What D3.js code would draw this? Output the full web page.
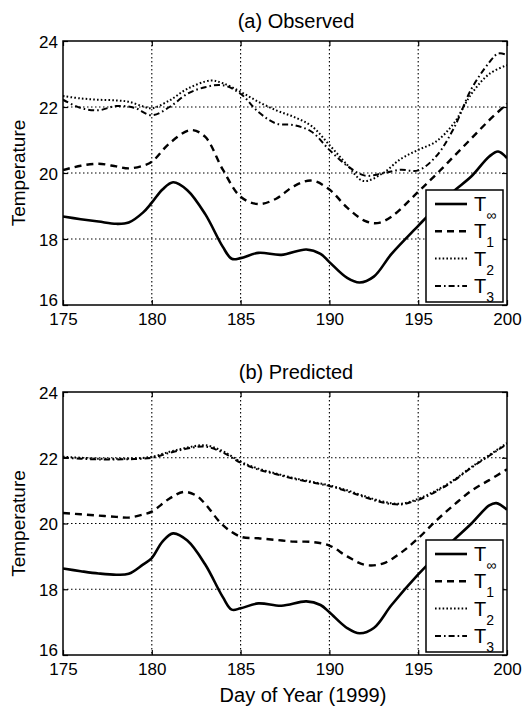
<!DOCTYPE html>
<html>
<head>
<meta charset="utf-8">
<script src="https://cdn.jsdelivr.net/npm/d3@7"></script>
<style>
  body { margin: 0; background: #fff; }
  text { font-family: "Liberation Sans", Arial, sans-serif; fill: #000; }
</style>
</head>
<body>
<svg id="fig" width="529" height="709"></svg>
<script>
/* Temperature curves, [day, temperature] pairs */
// (a) observed
let obsInf = [[175,18.68],[176,18.6],[177,18.53],[178,18.46],[178.7,18.5],[179.5,18.8],[180,19.1],[180.6,19.5],[181.2,19.72],[182,19.48],[183,18.76],[184,17.76],[184.5,17.4],[185,17.42],[186,17.58],[187.3,17.52],[188.7,17.68],[189.5,17.55],[190,17.3],[191,16.82],[191.7,16.68],[192.5,16.86],[193.5,17.55],[195,18.4],[196,18.95],[197,19.45],[198,19.9],[199,20.5],[199.5,20.65],[200,20.45]];
let obsT1 = [[175,20.09],[176,20.22],[177,20.28],[178,20.2],[178.7,20.14],[179.5,20.22],[180,20.34],[181,20.9],[182.2,21.3],[183,21.1],[184,20.1],[185,19.28],[186,19.06],[187,19.22],[188,19.6],[189,19.77],[190,19.5],[191,18.95],[192,18.55],[192.7,18.48],[193.5,18.68],[195,19.43],[196,19.95],[197,20.5],[198,21.05],[199,21.6],[200,22.1]];
let obsT2 = [[175,22.33],[176,22.26],[177,22.22],[178,22.2],[178.7,22.16],[179.5,22.02],[180,21.96],[181,22.2],[182,22.55],[183.3,22.8],[184,22.72],[185,22.46],[186,22.16],[187,21.9],[188,21.7],[189,21.42],[190,20.85],[191,20.25],[191.9,19.76],[193,19.99],[194,20.42],[195,20.7],[196,20.95],[197,21.5],[198,22.4],[199,23.0],[200,23.27]];
let obsT3 = [[175,22.22],[176,21.97],[177,21.9],[178,22.03],[179,21.98],[180,21.75],[181,22.0],[182,22.4],[183,22.6],[184,22.66],[185,22.4],[186,21.85],[187,21.5],[188,21.45],[189,21.25],[190,20.7],[191,20.22],[192,19.92],[193,19.99],[194,20.1],[195,20.08],[196,20.5],[197,21.35],[198,22.55],[199,23.35],[199.5,23.62],[200,23.58]];
// (b) predicted
let predInf = [[175,18.63],[176,18.55],[177,18.48],[178,18.44],[178.7,18.47],[179.5,18.75],[180,18.95],[180.6,19.45],[181.2,19.7],[182,19.48],[183,18.76],[184,17.76],[184.5,17.38],[185,17.42],[186,17.57],[187.3,17.5],[188.7,17.63],[189.5,17.52],[190,17.3],[191,16.82],[191.7,16.66],[192.5,16.82],[193.5,17.52],[195,18.45],[196,19.0],[197,19.5],[198,20.0],[199,20.55],[199.4,20.62],[200,20.42]];
let predT1 = [[175,20.32],[176,20.28],[177,20.24],[178,20.2],[178.7,20.18],[179.5,20.27],[180,20.36],[181,20.76],[181.8,20.96],[182.5,20.85],[183,20.6],[184,19.95],[185,19.6],[186,19.55],[187,19.5],[188,19.45],[189,19.44],[190,19.33],[191,19.0],[192,18.74],[193,18.78],[194,19.1],[195,19.55],[196,20.08],[197,20.56],[198,21.0],[199,21.32],[200,21.65]];
let predT2 = [[175,22.03],[176,22.0],[177,21.97],[178,21.97],[179,21.98],[180,22.03],[181,22.18],[182,22.31],[183,22.38],[184,22.2],[185,21.88],[186,21.67],[187,21.52],[188,21.38],[189,21.27],[190,21.16],[191,21.01],[192,20.83],[193,20.67],[194,20.6],[195,20.75],[196,21.0],[197,21.32],[198,21.72],[199,22.08],[200,22.45]];
let predT3 = [[175,22.0],[176,21.97],[177,21.95],[178,21.95],[179,21.96],[180,22.0],[181,22.15],[182,22.28],[183,22.34],[184,22.16],[185,21.85],[186,21.64],[187,21.5],[188,21.36],[189,21.25],[190,21.14],[191,20.98],[192,20.8],[193,20.64],[194,20.58],[195,20.72],[196,20.97],[197,21.3],[198,21.7],[199,22.06],[200,22.42]];

let xTicks = [175, 180, 185, 190, 195, 200];
let yTicks = [16, 18, 20, 22, 24];
let seriesNames = ["\u221E", "1", "2", "3"];
let dashes = [null, "7,5", "1.6,2.2", "6,3,1.6,3"];

let svg = d3.select("#fig");
let left = 63, right = 507;

let x = d3.scaleLinear().domain([175, 200]).range([left, right]);

function drawPanel(id, title, top, bottom, series) {
    let y = d3.scaleLinear().domain([16, 24]).range([bottom, top]);
    let g = svg.append("g").attr("id", id);

    g.append("clipPath").attr("id", "clip-" + id)
        .append("rect")
        .attr("x", left).attr("y", top)
        .attr("width", right - left).attr("height", bottom - top);

    // dotted grid
    g.selectAll(".vgrid").data(xTicks.slice(1, -1)).enter().append("line")
        .attr("x1", d => x(d)).attr("x2", d => x(d))
        .attr("y1", top).attr("y2", bottom)
        .attr("stroke", "#000").attr("stroke-width", 1.1)
        .attr("stroke-dasharray", "1.5,2.5");
    g.selectAll(".hgrid").data(yTicks.slice(1, -1)).enter().append("line")
        .attr("x1", left).attr("x2", right)
        .attr("y1", d => y(d)).attr("y2", d => y(d))
        .attr("stroke", "#000").attr("stroke-width", 1.1)
        .attr("stroke-dasharray", "1.5,2.5");

    let line = d3.line()
        .x(d => x(d[0]))
        .y(d => y(d[1]))
        .curve(d3.curveCatmullRom.alpha(0.5));

    g.append("g").attr("clip-path", "url(#clip-" + id + ")")
        .selectAll("path").data(series).enter().append("path")
        .attr("d", d => line(d))
        .attr("fill", "none")
        .attr("stroke", "#000")
        .attr("stroke-width", (d, i) => i === 0 ? 2.6 : (i === 1 ? 2.4 : 2))
        .attr("stroke-dasharray", (d, i) => dashes[i]);

    // axes with inward ticks on all sides
    let ax = d3.axisBottom(x).tickValues(xTicks).tickSizeInner(-5).tickSizeOuter(0).tickPadding(8);
    let ay = d3.axisLeft(y).tickValues(yTicks).tickSizeInner(-5).tickSizeOuter(0).tickPadding(5);
    let gx = g.append("g").attr("transform", "translate(0," + bottom + ")").call(ax);
    let gy = g.append("g").attr("transform", "translate(" + left + ",0)").call(ay);
    g.append("g").attr("transform", "translate(0," + top + ")")
        .call(d3.axisTop(x).tickValues(xTicks).tickSizeInner(-5).tickSizeOuter(0).tickFormat(""));
    g.append("g").attr("transform", "translate(" + right + ",0)")
        .call(d3.axisRight(y).tickValues(yTicks).tickSizeInner(-5).tickSizeOuter(0).tickFormat(""));
    g.selectAll(".domain").remove();
    g.selectAll(".tick line").attr("stroke", "#000").attr("stroke-width", 1.2);
    gx.selectAll("text").attr("font-size", 17).attr("dy", "0.72em")
        .attr("font-family", "Liberation Sans, Arial, sans-serif").attr("fill", "#000");
    gy.selectAll("text").attr("font-size", 17)
        .attr("dy", d => d === 16 ? "0.05em" : "0.38em")
        .attr("font-family", "Liberation Sans, Arial, sans-serif").attr("fill", "#000");

    g.append("rect")
        .attr("x", left).attr("y", top)
        .attr("width", right - left).attr("height", bottom - top)
        .attr("fill", "none").attr("stroke", "#000").attr("stroke-width", 1.5);

    g.append("text")
        .attr("x", 296).attr("y", top - 13)
        .attr("text-anchor", "middle")
        .attr("font-size", 20)
        .text(title);

    g.append("text")
        .attr("transform", "translate(25," + (top + bottom) / 2 + ") rotate(-90)")
        .attr("text-anchor", "middle")
        .attr("font-size", 19)
        .text("Temperature");

    // legend
    let lx = 426, ly = bottom - 115, lw = 77, lh = 112;
    let leg = g.append("g");
    leg.append("rect")
        .attr("x", lx).attr("y", ly).attr("width", lw).attr("height", lh)
        .attr("fill", "#fff").attr("stroke", "#000").attr("stroke-width", 1.5);
    let rows = leg.selectAll(".row").data(seriesNames).enter().append("g")
        .attr("transform", (d, i) => "translate(0," + (ly + 14 + i * 27.3) + ")");
    rows.append("line")
        .attr("x1", lx + 9).attr("x2", lx + 41)
        .attr("stroke", "#000")
        .attr("stroke-width", (d, i) => i === 0 ? 2.6 : (i === 1 ? 2.4 : 2))
        .attr("stroke-dasharray", (d, i) => dashes[i]);
    let lt = rows.append("text")
        .attr("x", lx + 48).attr("y", 7)
        .attr("font-size", 20);
    lt.append("tspan").text("T");
    lt.append("tspan").attr("dy", 9).attr("font-size", 14).text(d => d);
}

drawPanel("obs", "(a) Observed", 41, 305, [obsInf, obsT1, obsT2, obsT3]);
drawPanel("pred", "(b) Predicted", 392, 655, [predInf, predT1, predT2, predT3]);

svg.append("text")
    .attr("x", 303).attr("y", 702)
    .attr("text-anchor", "middle")
    .attr("font-size", 20)
    .text("Day of Year (1999)");
</script>
</body>
</html>
